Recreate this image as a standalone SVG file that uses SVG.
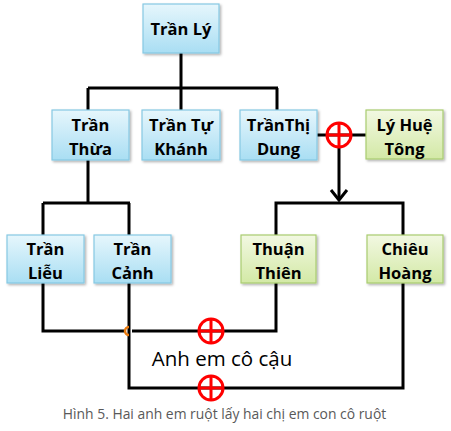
<svg xmlns="http://www.w3.org/2000/svg" width="451" height="431" viewBox="0 0 451 431">
<defs>
<linearGradient id="gb" x1="0" y1="0" x2="0" y2="1"><stop offset="0" stop-color="#e6f6fc"/><stop offset="1" stop-color="#a9def3"/></linearGradient>
<linearGradient id="gg" x1="0" y1="0" x2="0" y2="1"><stop offset="0" stop-color="#f2f8e2"/><stop offset="1" stop-color="#d3e9a6"/></linearGradient>
<filter id="sh" x="-10%" y="-10%" width="130%" height="130%"><feDropShadow dx="1.5" dy="1.5" stdDeviation="1.2" flood-color="#000" flood-opacity="0.3"/></filter>
</defs>
<style>
.b{fill:url(#gb);stroke:#86c9e3;stroke-width:1.2;filter:url(#sh)}
.g{fill:url(#gg);stroke:#a9cc70;stroke-width:1.2;filter:url(#sh)}
.t{font-family:"Open Sans","Liberation Sans",sans-serif;font-weight:bold;font-size:16.5px;fill:#000;text-anchor:middle}
.c{fill:none;stroke:#000;stroke-width:3;stroke-linejoin:miter}
.r{fill:none;stroke:#ff0000;stroke-width:3}
</style>
<rect width="451" height="431" fill="#fff"/>
<g id="connectors">
<path class="c" d="M181,53 V88 M88,88 H278 M88,88 V110 M181,88 V110 M277,88 V110"/>
<path class="c" d="M317,135 H366"/>
<path class="c" d="M339,147 V200"/>
<path class="c" d="M331,190 L339,200 L347,190"/>
<path class="c" d="M88,160 V203 M43,203 H130 M43,203 V235 M129,203 V235"/>
<path class="c" d="M276,235 V203 H403 V235"/>
<path class="c" d="M43,283 V331 H126 M132,331 H276 V283"/>
<path class="c" d="M129,283 V388 H403 V283"/>
<path d="M129,327 A4,4 0 0 0 129,335" fill="none" stroke="#e87a10" stroke-width="2.5"/>
<g>
<circle class="r" cx="339" cy="135" r="12" fill="#fff"/>
<path class="r" d="M327,135 H351 M339,123 V147"/>
</g>
<g>
<circle class="r" cx="211" cy="331" r="12" fill="#fff"/>
<path class="r" d="M199,331 H223 M211,319 V343"/>
</g>
<g>
<circle class="r" cx="211" cy="388" r="12" fill="#fff"/>
<path class="r" d="M199,388 H223 M211,376 V400"/>
</g>
</g>
<g id="tran-ly"><rect class="b" x="143" y="4" width="76" height="49"/><text class="t" x="181" y="35">Trần Lý</text></g>
<g id="tran-thua"><rect class="b" x="52" y="110" width="77" height="50"/><text class="t" x="90.5" y="131">Trần</text><text class="t" x="90.5" y="155">Thừa</text></g>
<g id="tran-tu-khanh"><rect class="b" x="142" y="110" width="78" height="50"/><text class="t" x="181" y="131">Trần Tự</text><text class="t" x="181" y="155">Khánh</text></g>
<g id="tran-thi-dung"><rect class="b" x="240" y="110" width="77" height="50"/><text class="t" x="278.5" y="131">TrầnThị</text><text class="t" x="278.5" y="155">Dung</text></g>
<g id="ly-hue-tong"><rect class="g" x="366" y="110" width="77" height="49"/><text class="t" x="404.5" y="131">Lý Huệ</text><text class="t" x="404.5" y="155">Tông</text></g>
<g id="tran-lieu"><rect class="b" x="7" y="235" width="77" height="48"/><text class="t" x="45.5" y="255">Trần</text><text class="t" x="45.5" y="279">Liễu</text></g>
<g id="tran-canh"><rect class="b" x="94" y="235" width="77" height="48"/><text class="t" x="132.5" y="255">Trần</text><text class="t" x="132.5" y="279">Cảnh</text></g>
<g id="thuan-thien"><rect class="g" x="241" y="235" width="75" height="48"/><text class="t" x="278.5" y="255">Thuận</text><text class="t" x="278.5" y="279">Thiên</text></g>
<g id="chieu-hoang"><rect class="g" x="367" y="235" width="76" height="48"/><text class="t" x="405" y="255">Chiêu</text><text class="t" x="405" y="279">Hoàng</text></g>
<text x="222" y="366" font-family="'Open Sans','Liberation Sans',sans-serif" font-size="20.5" fill="#000" text-anchor="middle">Anh em cô cậu</text>
<text x="224.5" y="419" font-family="'Open Sans','Liberation Sans',sans-serif" font-size="13.9" fill="#595959" text-anchor="middle">Hình 5. Hai anh em ruột lấy hai chị em con cô ruột</text>
</svg>
